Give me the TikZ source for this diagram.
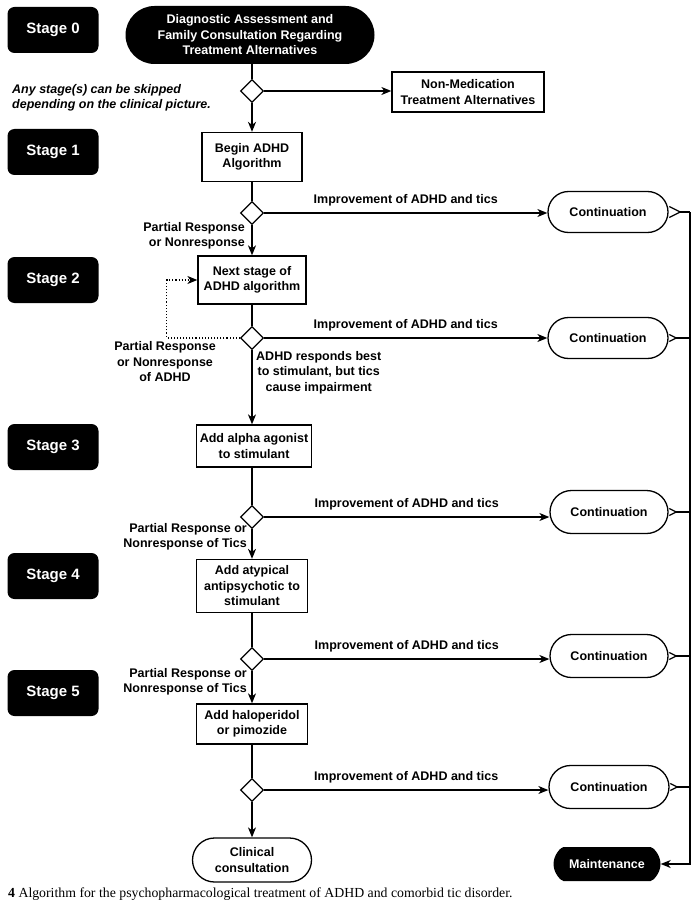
\documentclass[tikz,border=0pt]{standalone}
\usepackage{fontspec}
\setmainfont{Liberation Sans}
\newfontfamily\capfont{Liberation Serif}
\usetikzlibrary{shapes.geometric,shapes.misc,arrows.meta}

\begin{document}
\begin{tikzpicture}[x=1pt,y=-1pt,
  every node/.style={font=\fontsize{12.5}{15.5}\selectfont\bfseries, inner sep=0pt},
  stagebox/.style={fill=black, rounded corners=7pt, text=white,
    minimum width=91pt, minimum height=46pt,
    font=\fontsize{15}{18}\selectfont\bfseries},
  procbox/.style={draw, line width=1.3pt, align=center},
  termbox/.style={draw, rounded rectangle, line width=1.3pt, align=center},
  darkterm/.style={fill=black, rounded rectangle, text=white, align=center},
  decision/.style={draw, diamond, line width=1.2pt, minimum width=23pt, minimum height=23pt},
  note/.style={align=center},
  link/.style={line width=1.2pt},
  flow/.style={line width=1.2pt, -{Stealth[length=10pt,width=8pt,inset=3pt]}},
  fork/.style={line width=1.2pt, {Straight Barb[reversed,length=#1,width=#1]}-},
  fork/.default=7pt
]
\useasboundingbox[fill=white] (0,0) rectangle (692,901);

% stage markers
\node[stagebox] (s0) at (53,30)  {Stage 0};
\node[stagebox] (s1) at (53,152) {Stage 1};
\node[stagebox] (s2) at (53,280) {Stage 2};
\node[stagebox] (s3) at (53,447) {Stage 3};
\node[stagebox] (s4) at (53,576) {Stage 4};
\node[stagebox] (s5) at (53,693) {Stage 5};

% main column
\node[darkterm, minimum width=249pt, minimum height=58pt] (t0) at (250,35)
  {Diagnostic Assessment and\\Family Consultation Regarding\\Treatment Alternatives};
\node[decision] (d1) at (252,91) {};
\node[procbox, minimum width=152pt, minimum height=40pt] (nm) at (468,92)
  {Non-Medication\\Treatment Alternatives};
\node[anchor=west, align=left, font=\fontsize{12.5}{15.5}\selectfont\bfseries\itshape] (skip) at (12,98)
  {Any stage(s) can be skipped\\depending on the clinical picture.};

\node[procbox, minimum width=100pt, minimum height=49pt] (b1) at (252,157) {Begin ADHD\\Algorithm};
\node[decision] (d2) at (252,213) {};
\node[procbox, minimum width=108pt, minimum height=48pt] (b2) at (252,280) {Next stage of\\ADHD algorithm};
\node[decision] (d3) at (252,338) {};
\node[procbox, minimum width=115pt, minimum height=42pt] (b3) at (254,446) {Add alpha agonist\\to stimulant};
\node[decision] (d4) at (252,517) {};
\node[procbox, minimum width=111pt, minimum height=53pt] (b4) at (252,586) {Add atypical\\antipsychotic to\\stimulant};
\node[decision] (d5) at (252,659) {};
\node[procbox, minimum width=111pt, minimum height=40pt] (b5) at (252,724) {Add haloperidol\\or pimozide};
\node[decision] (d6) at (252,790) {};
\node[termbox, minimum width=119pt, minimum height=44pt] (cc) at (252,860) {Clinical\\consultation};

% continuation column
\node[termbox, minimum width=120pt, minimum height=41pt] (c1) at (608,212) {Continuation};
\node[termbox, minimum width=120pt, minimum height=41pt] (c2) at (608,338) {Continuation};
\node[termbox, minimum width=118pt, minimum height=43pt] (c3) at (609,512) {Continuation};
\node[termbox, minimum width=118pt, minimum height=43pt] (c4) at (609,656) {Continuation};
\node[termbox, minimum width=120pt, minimum height=43pt] (c5) at (609,787) {Continuation};
\node[darkterm, rounded rectangle=false, rounded corners=7pt, minimum width=107pt, minimum height=34pt] (mt) at (607,864) {Maintenance};
\coordinate (rail) at (690,212);

% side labels
\node[note, anchor=east, align=right] (l2) at (245,236) {Partial Response\\or Nonresponse};
\node[note] (l3) at (165,362) {Partial Response\\or Nonresponse\\of ADHD};
\node[note, anchor=north west] (l3b) at (256,351) {ADHD responds best\\to stimulant, but tics\\cause impairment};
\node[note, anchor=east, align=right] (l4) at (247,537) {Partial Response or\\Nonresponse of Tics};
\node[note, anchor=east, align=right] (l5) at (247,682) {Partial Response or\\Nonresponse of Tics};

% connectors down the main column
\draw[link] (t0.south -| d1.north) -- (d1.north);
\draw[flow] (d1.south) -- (b1.north);
\draw[flow] (d1.east) -- (d1.east -| nm.west);
\draw[link] (b1.south) -- (d2.north);
\draw[flow] (d2.south) -- (b2.north);
\draw[link] (b2.south) -- (d3.north);
\draw[flow] (d3.south) -- (d3.south |- b3.north);
\draw[link] (d3.south |- b3.south) -- (d4.north);
\draw[flow] (d4.south) -- (b4.north);
\draw[link] (b4.south) -- (d5.north);
\draw[flow] (d5.south) -- (b5.north);
\draw[link] (b5.south) -- (d6.north);
\draw[flow] (d6.south) -- (cc.north);

% loop back within stage 2
\draw[line width=1.1pt, dotted, -{Stealth[length=10pt,width=8pt,inset=3pt]}]
  (d3.west) -- ++(-73,0) |- (b2.west);

% improvement branches
\foreach \d/\c in {d2/c1, d3/c2, d4/c3, d5/c4, d6/c5}
  \draw[flow] (\d.east) -- node[above=6pt] {Improvement of ADHD and tics} (\d.east -| \c.west);

% continuation to maintenance
\draw[fork=11pt] (c1.east) -- (rail);
\foreach \c in {c2, c3, c4, c5}
  \draw[fork] (\c.east) -- (\c.east -| rail);
\draw[flow] (rail) -- (rail |- mt.east) -- (mt.east);

% caption
\node[anchor=west, font=\capfont\fontsize{13.8}{16}\selectfont] (cap) at (8,894)
  {\textbf{4} Algorithm for the psychopharmacological treatment of ADHD and comorbid tic disorder.};
\end{tikzpicture}
\end{document}
